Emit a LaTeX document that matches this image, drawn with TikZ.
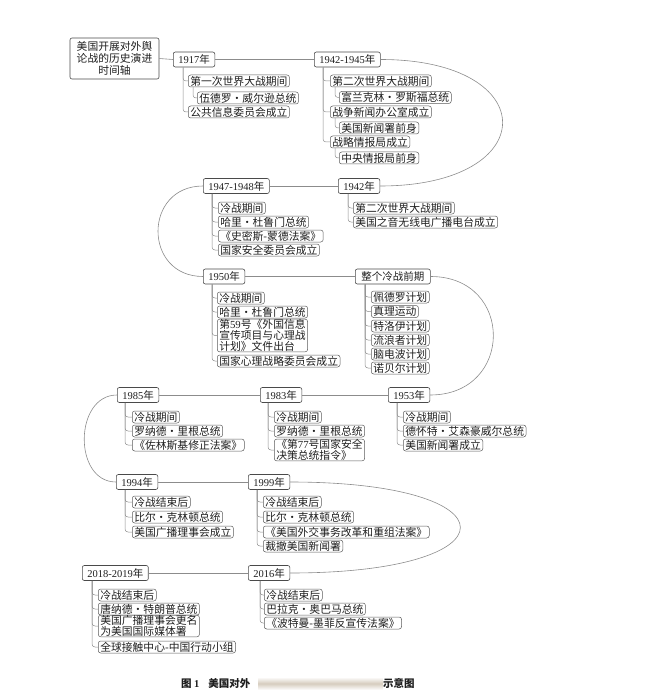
\documentclass[tikz,border=0pt]{standalone}
\usepackage{fontspec}
\setmainfont{Noto Sans CJK SC}
\newfontfamily\latf{Liberation Serif}
\newcommand\dg[1]{{\latf #1}}
\definecolor{yrc}{HTML}{4A4A4A}
\definecolor{itc}{HTML}{5A5A5A}
\definecolor{lnc}{HTML}{8C8C8C}
\definecolor{txc}{HTML}{1E1E1E}
\begin{document}
\begin{tikzpicture}[x=1pt,y=-1pt,
  yrbox/.style={draw=yrc, rounded corners=2pt, line width=0.6pt, inner xsep=5pt, inner ysep=0pt,
    minimum height=15pt, font=\fontsize{10.5}{12}\selectfont, text=txc, anchor=west},
  itbox/.style={draw=itc, rounded corners=2.5pt, line width=0.5pt, inner xsep=2pt, inner ysep=0.3pt,
    minimum height=12pt, font=\fontsize{10.8}{11}\selectfont, text=txc, anchor=west, align=left},
  brl/.style={draw=lnc, line width=0.5pt, rounded corners=3pt},
  tml/.style={draw=lnc, line width=0.6pt}]
\useasboundingbox (0,0) rectangle (645,695);

% root
\node[draw=yrc, rounded corners=2pt, line width=0.6pt, align=center, minimum width=89pt, minimum height=41pt,
  inner sep=1pt, font=\fontsize{10.8}{12}\selectfont, text=txc] (root) at (114.5,58.5)
  {美国开展对外舆\\论战的历史演进\\时间轴};

% year boxes
\node[yrbox] (y1917) at (173,59.5) {\dg{1917}年};
\node[yrbox] (y4245) at (314,59.5) {\dg{1942-1945}年};
\node[yrbox] (y42)   at (338,186) {\dg{1942}年};
\node[yrbox] (y4748) at (203,186) {\dg{1947-1948}年};
\node[yrbox] (y50)   at (203,276.5) {\dg{1950}年};
\node[yrbox, inner xsep=6pt] (ycw) at (355,276.5) {整个冷战前期};
\node[yrbox] (y53)   at (388,395) {\dg{1953}年};
\node[yrbox] (y83)   at (260,395) {\dg{1983}年};
\node[yrbox] (y85)   at (117,395) {\dg{1985}年};
\node[yrbox] (y94)   at (116,482) {\dg{1994}年};
\node[yrbox] (y99)   at (248,482) {\dg{1999}年};
\node[yrbox] (y1819) at (82,573) {\dg{2018-2019}年};
\node[yrbox] (y16)   at (248,573) {\dg{2016}年};

% timeline
\draw[tml] (root.east) -- (y1917.west);
\draw[tml] (y1917.east) -- (y4245.west);
\draw[tml] (y4245.east) .. controls +(163,0) and +(163,0) .. (y42.east);
\draw[tml] (y42.west) -- (y4748.east);
\draw[tml] (y4748.west) .. controls +(-60,0) and +(-60,0) .. (y50.west);
\draw[tml] (y50.east) -- (ycw.west);
\draw[tml] (ycw.east) .. controls +(84,0) and +(84,0) .. (y53.east);
\draw[tml] (y53.west) -- (y83.east);
\draw[tml] (y83.west) -- (y85.east);
\draw[tml] (y85.west) .. controls +(-43,0) and +(-43,0) .. (y94.west);
\draw[tml] (y94.east) -- (y99.west);
\draw[tml] (y99.east) .. controls +(227,0) and +(227,0) .. (y16.east);
\draw[tml] (y16.west) -- (y1819.east);

% 1917
\node[itbox] (a1) at (188,81) {第一次世界大战期间};
\node[itbox] (a2) at (197,98) {伍德罗・威尔逊总统};
\node[itbox] (a3) at (188,112) {公共信息委员会成立};
\draw[brl] ([xshift=10pt]y1917.south west) |- (a1.west);
\draw[brl] ([xshift=10pt]y1917.south west) |- (a3.west);
\draw[brl] ([xshift=5pt]a1.south west) |- (a2.west);

% 1942-1945
\node[itbox] (b1) at (330,81) {第二次世界大战期间};
\node[itbox] (b2) at (339,97.5) {富兰克林・罗斯福总统};
\node[itbox] (b3) at (330,112) {战争新闻办公室成立};
\node[itbox] (b4) at (339,128) {美国新闻署前身};
\node[itbox] (b5) at (330,142) {战略情报局成立};
\node[itbox] (b6) at (339,158) {中央情报局前身};
\draw[brl] ([xshift=9pt]y4245.south west) |- (b1.west);
\draw[brl] ([xshift=9pt]y4245.south west) |- (b3.west);
\draw[brl] ([xshift=9pt]y4245.south west) |- (b5.west);
\draw[brl] ([xshift=5pt]b1.south west) |- (b2.west);
\draw[brl] ([xshift=5pt]b3.south west) |- (b4.west);
\draw[brl] ([xshift=5pt]b5.south west) |- (b6.west);

% 1942
\node[itbox] (c1) at (353,208) {第二次世界大战期间};
\node[itbox] (c2) at (353,222) {美国之音无线电广播电台成立};
\draw[brl] ([xshift=10pt]y42.south west) |- (c1.west);
\draw[brl] ([xshift=10pt]y42.south west) |- (c2.west);

% 1947-1948
\node[itbox] (d1) at (218,208) {冷战期间};
\node[itbox] (d2) at (218,222) {哈里・杜鲁门总统};
\node[itbox] (d3) at (218,236) {《史密斯-蒙德法案》};
\node[itbox] (d4) at (218,250) {国家安全委员会成立};
\foreach \n in {d1,d2,d3,d4} \draw[brl] ([xshift=9pt]y4748.south west) |- (\n.west);

% 1950
\node[itbox] (e1) at (217,298) {冷战期间};
\node[itbox] (e2) at (217,312) {哈里・杜鲁门总统};
\node[itbox] (e3) at (217,335.5) {第\dg{59}号《外国信息\\宣传项目与心理战\\计划》文件出台};
\node[itbox] (e4) at (217,361) {国家心理战略委员会成立};
\foreach \n in {e1,e2,e3,e4} \draw[brl] ([xshift=9pt]y50.south west) |- (\n.west);

% cold war early period
\node[itbox] (f1) at (371,297) {佩德罗计划};
\node[itbox] (f2) at (371,311.5) {真理运动};
\node[itbox] (f3) at (371,326) {特洛伊计划};
\node[itbox] (f4) at (371,340) {流浪者计划};
\node[itbox] (f5) at (371,354) {脑电波计划};
\node[itbox] (f6) at (371,368) {诺贝尔计划};
\foreach \n in {f1,f2,f3,f4,f5,f6} \draw[brl] ([xshift=10pt]ycw.south west) |- (\n.west);

% 1953
\node[itbox] (g1) at (403,417) {冷战期间};
\node[itbox] (g2) at (403,431) {德怀特・艾森豪威尔总统};
\node[itbox] (g3) at (403,445) {美国新闻署成立};
\foreach \n in {g1,g2,g3} \draw[brl] ([xshift=9pt]y53.south west) |- (\n.west);

% 1983
\node[itbox] (h1) at (274,417) {冷战期间};
\node[itbox] (h2) at (274,431) {罗纳德・里根总统};
\node[itbox] (h3) at (274,450) {《第\dg{77}号国家安全\\决策总统指令》};
\foreach \n in {h1,h2,h3} \draw[brl] ([xshift=8pt]y83.south west) |- (\n.west);

% 1985
\node[itbox] (i1) at (132,417) {冷战期间};
\node[itbox] (i2) at (132,431) {罗纳德・里根总统};
\node[itbox] (i3) at (132,445) {《佐林斯基修正法案》};
\foreach \n in {i1,i2,i3} \draw[brl] ([xshift=8pt]y85.south west) |- (\n.west);

% 1994
\node[itbox] (j1) at (132,502) {冷战结束后};
\node[itbox] (j2) at (132,517) {比尔・克林顿总统};
\node[itbox] (j3) at (132,532) {美国广播理事会成立};
\foreach \n in {j1,j2,j3} \draw[brl] ([xshift=9pt]y94.south west) |- (\n.west);

% 1999
\node[itbox] (k1) at (263,502) {冷战结束后};
\node[itbox] (k2) at (263,517) {比尔・克林顿总统};
\node[itbox] (k3) at (263,532) {《美国外交事务改革和重组法案》};
\node[itbox] (k4) at (263,546) {裁撤美国新闻署};
\foreach \n in {k1,k2,k3,k4} \draw[brl] ([xshift=9pt]y99.south west) |- (\n.west);

% 2018-2019
\node[itbox] (l1) at (98,595) {冷战结束后};
\node[itbox] (l2) at (98,609) {唐纳德・特朗普总统};
\node[itbox] (l3) at (98,626) {美国广播理事会更名\\为美国国际媒体署};
\node[itbox] (l4) at (98,647) {全球接触中心-中国行动小组};
\foreach \n in {l1,l2,l3,l4} \draw[brl] ([xshift=10pt]y1819.south west) |- (\n.west);

% 2016
\node[itbox] (m1) at (264,595) {冷战结束后};
\node[itbox] (m2) at (264,609) {巴拉克・奥巴马总统};
\node[itbox] (m3) at (264,623) {《波特曼-墨菲反宣传法案》};
\foreach \n in {m1,m2,m3} \draw[brl] ([xshift=12pt]y16.south west) |- (\n.west);

% caption
\node[anchor=west, inner sep=0pt, font=\bfseries\fontsize{10.5}{12}\selectfont, text=txc] (cap1) at (181,683) {图 \dg{1}\hspace{9pt}美国对外};
\shade[top color=white, bottom color=white, middle color={rgb,255:red,214;green,204;blue,190}]
  (258,677) rectangle (383,690);
\node[anchor=west, inner sep=0pt, font=\bfseries\fontsize{10.5}{12}\selectfont, text=txc] (cap2) at (383,683) {示意图};
\end{tikzpicture}
\end{document}
